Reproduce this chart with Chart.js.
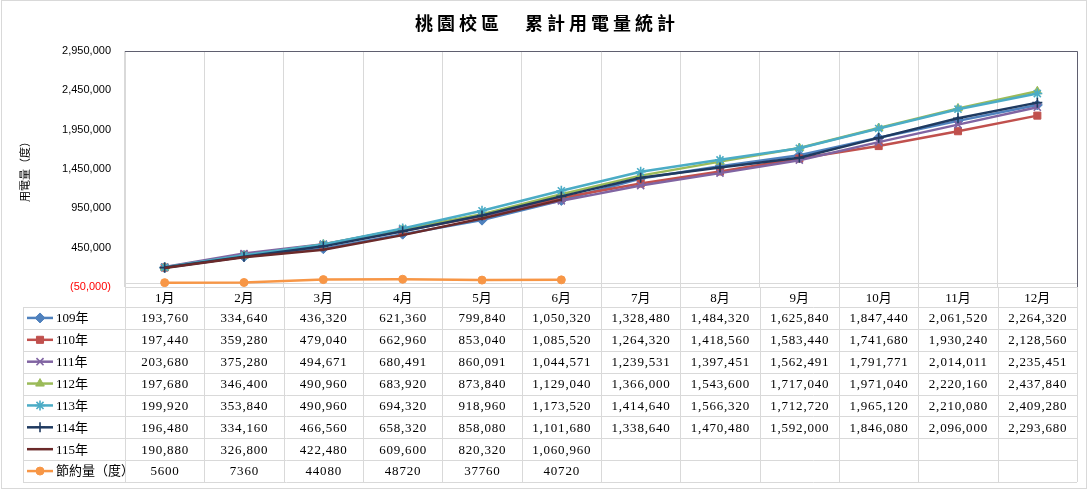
<!DOCTYPE html>
<html>
<head>
<meta charset="utf-8">
<script src="https://cdn.jsdelivr.net/npm/chart.js@4.4.0/dist/chart.umd.min.js"></script>
<style>
html, body { margin: 0; padding: 0; background: #fff; }
#wrap { width: 1088px; height: 490px; position: relative; }
</style>
</head>
<body>
<div id="wrap"><canvas id="usageChart"></canvas></div>
<script>
// 桃園校區 累計用電量 (度)
const months = ['1月', '2月', '3月', '4月', '5月', '6月', '7月', '8月', '9月', '10月', '11月', '12月'];
const seriesNames = ['109年', '110年', '111年', '112年', '113年', '114年', '115年', '節約量（度）'];

const y109 = [193760, 334640, 436320, 621360, 799840, 1050320, 1328480, 1484320, 1625840, 1847440, 2061520, 2264320];
const y110 = [197440, 359280, 479040, 662960, 853040, 1085520, 1264320, 1418560, 1583440, 1741680, 1930240, 2128560];
const y111 = [203680, 375280, 494671, 680491, 860091, 1044571, 1239531, 1397451, 1562491, 1791771, 2014011, 2235451];
const y112 = [197680, 346400, 490960, 683920, 873840, 1129040, 1366000, 1543600, 1717040, 1971040, 2220160, 2437840];
const y113 = [199920, 353840, 490960, 694320, 918960, 1173520, 1414640, 1566320, 1712720, 1965120, 2210080, 2409280];
const y114 = [196480, 334160, 466560, 658320, 858080, 1101680, 1338640, 1470480, 1592000, 1846080, 2096000, 2293680];
const y115 = [190880, 326800, 422480, 609600, 820320, 1060960];
const saved = [5600, 7360, 44080, 48720, 37760, 40720];

const yMin = -50000;
const yMax = 2950000;
const yStep = 500000;

const seriesValues = [y109, y110, y111, y112, y113, y114, y115, saved];
const colors = ['#4F81BD', '#C0504D', '#8064A2', '#9BBB59', '#4BACC6', '#1F3A60', '#6B2A2A', '#F79646'];
const markers = ['rectRot', 'rect', 'crossRot', 'triangle', 'star', 'cross', false, 'circle'];
const markerSizes = [5, 5, 5, 5, 5, 5, 0, 4];

const tableFont = '13px "Liberation Serif", "Noto Sans CJK TC", serif';
const gridColor = '#d9d9d9';

function fmt(v, plain) {
    if (plain) return String(v);
    return v.toLocaleString('en-US');
}

const datasets = seriesNames.map(function (name, i) {
    return {
        label: name,
        data: seriesValues[i],
        borderColor: colors[i],
        backgroundColor: colors[i],
        borderWidth: 2.5,
        pointStyle: markers[i],
        pointRadius: markerSizes[i],
        pointBorderWidth: (markers[i] === 'crossRot' || markers[i] === 'cross' || markers[i] === 'star') ? 1.6 : 1,
        tension: 0,
        order: seriesNames.length - i
    };
});

const framePlugin = {
    id: 'frame',
    beforeDatasetsDraw(chart) {
        const { ctx, chartArea: ca, scales: { y } } = chart;
        ctx.save();
        ctx.lineWidth = 1;
        ctx.strokeStyle = gridColor;
        const y0 = Math.round(y.getPixelForValue(0)) + 0.5;
        ctx.beginPath();
        ctx.moveTo(ca.left, y0);
        ctx.lineTo(ca.right, y0);
        ctx.stroke();
        ctx.strokeStyle = '#5f5f6f';
        ctx.beginPath();
        ctx.moveTo(ca.left, Math.round(ca.top) + 0.5);
        ctx.lineTo(Math.round(ca.right) + 0.5, Math.round(ca.top) + 0.5);
        ctx.lineTo(Math.round(ca.right) + 0.5, ca.bottom);
        ctx.stroke();
        ctx.restore();
    }
};

const tablePlugin = {
    id: 'dataTable',
    afterDraw(chart) {
        const { ctx, chartArea: ca, scales: { x } } = chart;
        const colW = (ca.right - ca.left) / months.length;
        const top = x.bottom;
        const rowH = 21.875;
        const rows = seriesNames.length;
        const bottom = top + rows * rowH;
        const legendLeft = 23;

        ctx.save();
        ctx.lineWidth = 1;
        ctx.strokeStyle = gridColor;
        ctx.beginPath();
        for (let r = 0; r <= rows; r++) {
            const yy = Math.round(top + r * rowH) + 0.5;
            ctx.moveTo(legendLeft, yy);
            ctx.lineTo(ca.right, yy);
        }
        for (let c = 0; c <= months.length; c++) {
            const xx = Math.round(ca.left + c * colW) + 0.5;
            ctx.moveTo(xx, ca.bottom);
            ctx.lineTo(xx, bottom);
        }
        ctx.moveTo(legendLeft + 0.5, top);
        ctx.lineTo(legendLeft + 0.5, bottom);
        ctx.stroke();

        ctx.font = tableFont;
        ctx.textBaseline = 'middle';
        seriesNames.forEach(function (name, r) {
            const cy = top + r * rowH + rowH / 2;
            // legend key
            ctx.strokeStyle = colors[r];
            ctx.fillStyle = colors[r];
            ctx.lineWidth = 2.5;
            ctx.beginPath();
            ctx.moveTo(27, cy);
            ctx.lineTo(53, cy);
            ctx.stroke();
            if (markers[r]) {
                ctx.lineWidth = datasets[r].pointBorderWidth;
                Chart.helpers.drawPoint(ctx, {
                    pointStyle: markers[r],
                    radius: markerSizes[r],
                    rotation: 0,
                    borderWidth: datasets[r].pointBorderWidth
                }, 40, cy);
            }
            ctx.fillStyle = '#000';
            ctx.textAlign = 'left';
            ctx.letterSpacing = '0px';
            ctx.fillText(name, 56, cy + 1);
            ctx.textAlign = 'center';
            ctx.letterSpacing = '0.8px';
            seriesValues[r].forEach(function (v, c) {
                ctx.fillText(fmt(v, name === '節約量（度）'), x.getPixelForValue(c) + 0.4, cy + 1);
            });
        });
        ctx.letterSpacing = '0px';

        // title
        ctx.fillStyle = '#000';
        ctx.font = 'bold 18px "Noto Sans CJK TC", sans-serif';
        ctx.letterSpacing = '4px';
        ctx.textAlign = 'center';
        ctx.fillText('桃園校區　累計用電量統計', 547, 23);
        ctx.letterSpacing = '0px';

        // chart border
        ctx.strokeStyle = gridColor;
        ctx.lineWidth = 1;
        ctx.strokeRect(1.5, 0.5, 1085, 488);
        ctx.restore();
    }
};

new Chart(document.getElementById('usageChart'), {
    type: 'line',
    data: { labels: months, datasets: datasets },
    options: {
        responsive: true,
        maintainAspectRatio: false,
        devicePixelRatio: 1,
        animation: false,
        layout: { padding: { top: 51, right: 11, bottom: 183, left: 0 } },
        plugins: {
            legend: { display: false },
            title: { display: false },
            tooltip: { enabled: false }
        },
        scales: {
            x: {
                offset: true,
                afterFit: function (scale) { scale.height = 20; },
                grid: { display: true, offset: true, color: gridColor, drawTicks: false },
                border: { display: true, color: gridColor },
                ticks: {
                    color: '#000',
                    padding: 4,
                    font: { family: '"Liberation Serif", "Noto Sans CJK TC", serif', size: 13 }
                }
            },
            y: {
                min: yMin,
                max: yMax,
                afterFit: function (scale) { scale.width = 125; },
                grid: { display: false, drawTicks: false },
                border: { display: true, color: gridColor },
                ticks: {
                    stepSize: yStep,
                    padding: 14,
                    color: function (c) { return c.tick.value < 0 ? '#FF0000' : '#000'; },
                    font: { family: '"Liberation Sans", sans-serif', size: 11 },
                    callback: function (v) {
                        return v < 0 ? '(' + Math.abs(v).toLocaleString('en-US') + ')' : v.toLocaleString('en-US');
                    }
                },
                title: {
                    display: true,
                    text: '用電量（度）',
                    color: '#000',
                    padding: { top: 18, bottom: 0 },
                    font: { family: '"Noto Sans CJK TC", sans-serif', size: 11 }
                }
            }
        }
    },
    plugins: [framePlugin, tablePlugin]
});
</script>
</body>
</html>
